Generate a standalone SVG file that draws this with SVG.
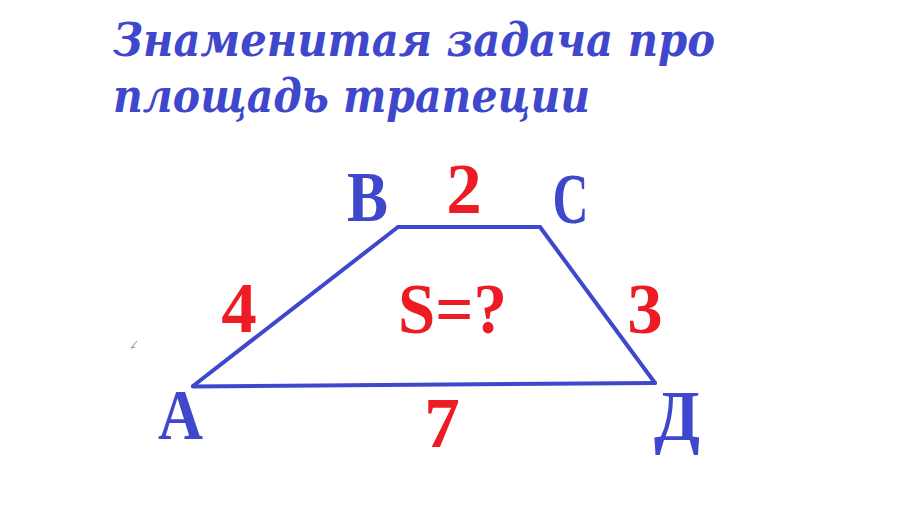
<svg xmlns="http://www.w3.org/2000/svg" width="902" height="526" viewBox="0 0 902 526">
<style>
.title{font-family:"DejaVu Serif","Liberation Serif",serif;font-weight:bold;font-style:italic;font-size:47px;fill:#3f48cc}
.vtx{font-family:"Liberation Serif","DejaVu Serif",serif;font-weight:bold;font-size:71px;fill:#3f48cc;text-anchor:middle}
.num{font-family:"Liberation Serif","DejaVu Serif",serif;font-weight:bold;font-size:71px;fill:#ed1c24;text-anchor:middle}
.edge{stroke:#3f48cc;stroke-width:4;stroke-linecap:round;fill:none}
</style>
<rect width="902" height="526" fill="#ffffff"/>
<g id="title">
<text class="title" x="113" y="56" textLength="602" lengthAdjust="spacingAndGlyphs">Знаменитая задача про</text>
<text class="title" x="113" y="112" textLength="477" lengthAdjust="spacingAndGlyphs">площадь трапеции</text>
</g>
<g id="connectors">
<line class="edge" x1="193" y1="386" x2="398" y2="227"/>
<line class="edge" x1="398" y1="227" x2="540" y2="227"/>
<line class="edge" x1="540" y1="227" x2="655" y2="383"/>
<line class="edge" x1="193" y1="386.5" x2="655" y2="383"/>
</g>
<g id="vertex-B"><text class="vtx" x="367.5" y="221" textLength="41" lengthAdjust="spacingAndGlyphs">B</text></g>
<g id="vertex-C"><text class="vtx" x="570.5" y="223" textLength="36" lengthAdjust="spacingAndGlyphs">C</text></g>
<g id="vertex-A"><text class="vtx" x="180.5" y="439" textLength="45" lengthAdjust="spacingAndGlyphs">A</text></g>
<g id="vertex-D"><text class="vtx" x="677" y="440" textLength="46" lengthAdjust="spacingAndGlyphs">Д</text></g>
<g id="label-BC"><text class="num" x="464" y="213">2</text></g>
<g id="label-AB"><text class="num" x="239" y="332">4</text></g>
<g id="label-CD"><text class="num" x="645" y="333">3</text></g>
<g id="label-AD"><text class="num" x="442" y="447">7</text></g>
<g id="label-S"><text class="num" x="452.5" y="333" textLength="109" lengthAdjust="spacingAndGlyphs">S=?</text></g>
<path d="M131 348 L137 341 M131 348 L135 347" stroke="#8a8a8a" stroke-width="1" fill="none"/>
</svg>
